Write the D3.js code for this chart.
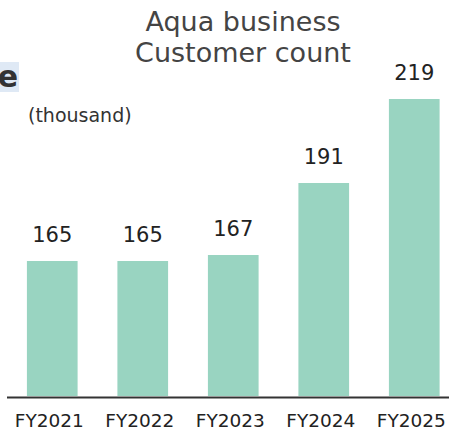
<!DOCTYPE html>
<html>
<head>
<meta charset="utf-8">
<script src="https://cdn.jsdelivr.net/npm/d3@7"></script>
<style>
  html, body { margin: 0; padding: 0; background: #fff; }
  svg { display: block; font-family: "DejaVu Sans", Verdana, sans-serif; }
</style>
</head>
<body>
<svg id="chart" width="449" height="432"></svg>
<script>
// Aqua business customer count by fiscal year (thousand)
const categories = ["FY2021", "FY2022", "FY2023", "FY2024", "FY2025"];
const customers = [165, 165, 167, 191, 219];
const titleLines = ["Aqua business", "Customer count"];
const unitLabel = "(thousand)";

const svg = d3.select("#chart");

// Layout
const plot = { left: 7, right: 449, top: 99, bottom: 396 };

const x = d3.scaleBand()
  .domain(categories)
  .range([7, 459.5])
  .paddingInner(0.44)
  .paddingOuter(0.22);

// Value axis does not start at zero
const y = d3.scaleLinear()
  .domain([120, 219])
  .range([plot.bottom, plot.top]);

// Heading fragment at the top-left edge
svg.append("rect")
  .attr("x", 0).attr("y", 62)
  .attr("width", 19).attr("height", 30)
  .attr("fill", "#dfe9f5");
svg.append("text")
  .attr("x", 18).attr("y", 87)
  .attr("text-anchor", "end")
  .attr("font-size", 30)
  .attr("font-weight", "bold")
  .attr("fill", "#333")
  .text("e");

// Title
svg.append("g").selectAll("text")
  .data(titleLines)
  .join("text")
  .attr("x", 243)
  .attr("y", (d, i) => 31 + i * 31)
  .attr("text-anchor", "middle")
  .attr("font-size", 27)
  .attr("fill", "#444")
  .text(d => d);

// Unit
svg.append("text")
  .attr("x", 28).attr("y", 122)
  .attr("font-size", 19)
  .attr("fill", "#333")
  .text(unitLabel);

// Bars
svg.append("g").selectAll("rect")
  .data(customers)
  .join("rect")
  .attr("x", (d, i) => x(categories[i]))
  .attr("y", d => y(d))
  .attr("width", x.bandwidth())
  .attr("height", d => plot.bottom - y(d))
  .attr("fill", "#99d4c1");

// Value labels
svg.append("g").selectAll("text")
  .data(customers)
  .join("text")
  .attr("x", (d, i) => x(categories[i]) + x.bandwidth() / 2)
  .attr("y", d => y(d) - 19)
  .attr("text-anchor", "middle")
  .attr("font-size", 21)
  .attr("fill", "#222")
  .text(d => d);

// Category axis
const xAxis = svg.append("g")
  .attr("transform", `translate(0,${plot.bottom + 1})`)
  .call(d3.axisBottom(x).tickSize(0).tickPadding(17));
xAxis.select(".domain").remove();
xAxis.append("line")
  .attr("x1", plot.left).attr("x2", plot.right)
  .attr("y1", 0.5).attr("y2", 0.5)
  .attr("stroke", "#333")
  .attr("stroke-width", 2);
xAxis.selectAll(".tick text")
  .attr("dx", -3)
  .attr("font-size", 18.5)
  .attr("font-family", "DejaVu Sans, Verdana, sans-serif")
  .attr("fill", "#222");
</script>
</body>
</html>
